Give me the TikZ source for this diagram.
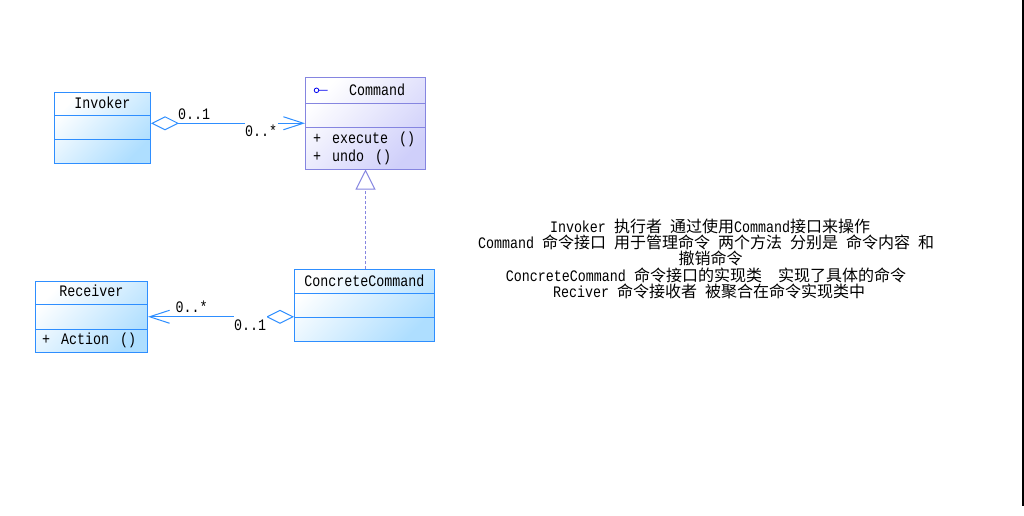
\documentclass[tikz,border=0pt]{standalone}
\usepackage{fontspec}
\setmainfont{Liberation Mono}[FakeStretch=0.8333]
\newfontfamily\cjk{Noto Sans CJK SC}
\newcommand\zh[1]{{\cjk #1}}
\newcommand\msp{\hspace{11pt}}
\usetikzlibrary{arrows.meta}
\definecolor{blueline}{HTML}{2E8EFF}
\definecolor{bluefill}{HTML}{AEDEFF}
\definecolor{purpline}{HTML}{8585E0}
\definecolor{purpfill}{HTML}{CFCFFA}
\definecolor{iconblue}{HTML}{0000F0}
\tikzset{
  classbox/.style 2 args={draw=#1, line width=1pt, top color=white, bottom color=#2,
    shading angle=45, inner sep=0pt},
  txt/.style={inner sep=0pt, font=\fontsize{16}{16}\selectfont},
  member/.style={txt, anchor=base west},
  mult/.style={txt},
  multcover/.style={txt, fill=white, inner xsep=0.5pt, text height=17pt, text depth=3pt},
  assoc/.style={draw=blueline, line width=1pt},
  realize/.style={draw=purpline, line width=1pt, dash pattern=on 3pt off 2pt},
  notetxt/.style={txt, anchor=base},
}
\begin{document}
\begin{tikzpicture}[x=1pt,y=-1pt]
\useasboundingbox (0,0) rectangle (1024,515);
\fill[white] (0,0) rectangle (1024,515);

% classes
\node[classbox={blueline}{bluefill}, minimum width=96pt, minimum height=71pt] (inv) at (102.5,127.5) {};
\draw[blueline, line width=1pt] (54.5,115.5) -- (150.5,115.5) (54.5,139.5) -- (150.5,139.5);
\node[txt, anchor=base] (invname) at (102.5,108) {Invoker};

\node[classbox={purpline}{purpfill}, minimum width=120pt, minimum height=91.5pt] (cmd) at (365.5,123.25) {};
\draw[purpline, line width=1pt] (305.5,103.5) -- (425.5,103.5) (305.5,127.5) -- (425.5,127.5);
\draw[iconblue, line width=0.8pt] (316.5,90.3) circle (2.3pt) (318.8,90.3) -- (327.7,90.3);
\node[txt, anchor=base west] (cmdname) at (349,95) {Command};
\node[member] (cmdexec) at (313,143.5) {+\msp execute\msp()};
\node[member] (cmdundo) at (313,161) {+\msp undo\msp()};

\node[classbox={blueline}{bluefill}, minimum width=112pt, minimum height=71.5pt] (rec) at (91.5,316.75) {};
\draw[blueline, line width=1pt] (35.5,304) -- (147.5,304) (35.5,329) -- (147.5,329);
\node[txt, anchor=base] (recname) at (91.5,296.7) {Receiver};
\node[member] (recact) at (42,344.3) {+\msp Action\msp()};

\node[classbox={blueline}{bluefill}, minimum width=140pt, minimum height=72pt] (cc) at (364.5,305.5) {};
\draw[blueline, line width=1pt] (294.5,293.5) -- (434.5,293.5) (294.5,317.5) -- (434.5,317.5);
\node[txt, anchor=base] (ccname) at (364.5,286) {ConcreteCommand};

% connectors
\draw[assoc, {Diamond[open, fill=white, length=28pt, width=14pt]}-{Straight Barb[length=20pt, width=13pt]}]
  (inv.east |- cmd.west) -- (cmd.west);
\node[mult, anchor=base west] (m1) at (178,119) {0..1};
\node[multcover, anchor=base west] (m2) at (244.5,136.5) {0..*};

\draw[assoc, {Straight Barb[length=20pt, width=13pt]}-{Diamond[open, fill=white, length=28pt, width=14pt]}]
  (rec.east) -- (cc.west |- rec.east);
\node[mult, anchor=base west] (m3) at (175.5,312.3) {0..*};
\node[multcover, anchor=base west] (m4) at (233.5,330) {0..1};

\draw[realize, -{Triangle[open, fill=white, length=20pt, width=20pt]}]
  (cmd.south |- cc.north) -- (cmd.south);

% note
\node[notetxt] (n1) at (710,232.5) {Invoker \zh{执行者} \zh{通过使用}Command\zh{接口来操作}};
\node[notetxt] (n2) at (706,248.7) {Command \zh{命令接口} \zh{用于管理命令} \zh{两个方法} \zh{分别是} \zh{命令内容} \zh{和}};
\node[notetxt] (n3) at (710.5,264.9) {\zh{撤销命令}};
\node[notetxt] (n4) at (706,281.1) {ConcreteCommand \zh{命令接口的实现类}\ \ \zh{实现了具体的命令}};
\node[notetxt] (n5) at (709,297.3) {Reciver \zh{命令接收者} \zh{被聚合在命令实现类中}};

% right edge line
\draw[line width=1.5pt] (1023,0) -- (1023,506);
\end{tikzpicture}
\end{document}
